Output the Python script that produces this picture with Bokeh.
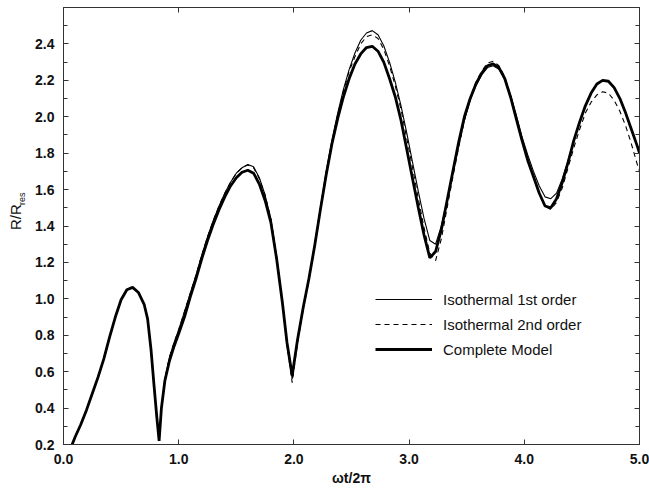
import math
from bokeh.plotting import figure
from bokeh.layouts import row
from bokeh.models import (Range1d, LinearAxis, FixedTicker, PrintfTickFormatter,
                          CustomJSTickFormatter, Legend, LegendItem)
from bokeh.core.properties import value
from bokeh.embed import file_html
from bokeh.resources import INLINE

# ---------------- data ----------------
x = [0.075, 0.10, 0.15, 0.20, 0.25, 0.30, 0.35, 0.40, 0.45, 0.50,
     0.55, 0.60, 0.65, 0.70, 0.73, 0.76, 0.785, 0.81, 0.83, 0.85, 0.88,
     0.92, 0.96, 1.00, 1.05, 1.10, 1.15, 1.20, 1.25, 1.30, 1.35,
     1.40, 1.45, 1.50, 1.55, 1.60, 1.65, 1.70, 1.75, 1.80, 1.85,
     1.90, 1.94, 1.985, 2.03, 2.08, 2.13, 2.18, 2.23, 2.28, 2.33,
     2.38, 2.43, 2.48, 2.53, 2.58, 2.63, 2.68, 2.73, 2.78, 2.83,
     2.88, 2.93, 2.98, 3.03, 3.08, 3.13, 3.18, 3.23, 3.28, 3.33,
     3.38, 3.43, 3.48, 3.53, 3.58, 3.63, 3.68, 3.73, 3.78, 3.83,
     3.88, 3.93, 3.98, 4.03, 4.08, 4.13, 4.18, 4.23, 4.28, 4.33,
     4.38, 4.43, 4.48, 4.53, 4.58, 4.63, 4.68, 4.73, 4.78, 4.83,
     4.88, 4.93, 4.98, 5.00]

complete = [0.20, 0.24, 0.31, 0.39, 0.48, 0.57, 0.67, 0.79, 0.90, 0.995,
            1.05, 1.063, 1.035, 0.97, 0.89, 0.72, 0.53, 0.35, 0.22, 0.40, 0.55,
            0.66, 0.74, 0.81, 0.90, 1.01, 1.11, 1.22, 1.32, 1.41, 1.49,
            1.56, 1.62, 1.665, 1.695, 1.706, 1.69, 1.63, 1.54, 1.42, 1.22,
            0.98, 0.76, 0.578, 0.77, 0.95, 1.11, 1.29, 1.49, 1.68, 1.85,
            1.99, 2.11, 2.21, 2.29, 2.345, 2.38, 2.387, 2.36, 2.30, 2.21,
            2.11, 1.98, 1.82, 1.66, 1.50, 1.35, 1.225, 1.26, 1.38, 1.54,
            1.70, 1.86, 2.00, 2.10, 2.18, 2.24, 2.28, 2.29, 2.27, 2.21,
            2.11, 1.99, 1.87, 1.76, 1.67, 1.58, 1.51, 1.50, 1.55, 1.64,
            1.75, 1.87, 1.97, 2.06, 2.13, 2.18, 2.20, 2.195, 2.16, 2.10,
            2.02, 1.93, 1.84, 1.80]

iso1 = [0.20, 0.24, 0.31, 0.39, 0.48, 0.57, 0.67, 0.79, 0.90, 0.995,
        1.05, 1.063, 1.035, 0.97, 0.89, 0.72, 0.53, 0.35, 0.22, 0.40, 0.56,
        0.68, 0.76, 0.83, 0.93, 1.03, 1.13, 1.24, 1.34, 1.43, 1.51,
        1.58, 1.64, 1.69, 1.72, 1.738, 1.725, 1.665, 1.57, 1.44, 1.23,
        0.98, 0.75, 0.56, 0.76, 0.95, 1.11, 1.30, 1.50, 1.70, 1.87,
        2.02, 2.15, 2.26, 2.35, 2.42, 2.46, 2.473, 2.45, 2.39, 2.30,
        2.19, 2.06, 1.91, 1.75, 1.59, 1.44, 1.32, 1.30, 1.40, 1.54,
        1.69, 1.84, 1.98, 2.09, 2.17, 2.23, 2.27, 2.28, 2.26, 2.21,
        2.12, 2.01, 1.89, 1.79, 1.70, 1.62, 1.56, 1.55, 1.58, 1.66,
        1.76, 1.87, 1.97, 2.06, 2.13, 2.18, 2.20, 2.195, 2.16, 2.10,
        2.02, 1.93, 1.84, 1.80]

iso2 = [0.20, 0.24, 0.31, 0.39, 0.48, 0.57, 0.67, 0.79, 0.90, 0.995,
        1.05, 1.063, 1.035, 0.97, 0.89, 0.72, 0.53, 0.35, 0.22, 0.40, 0.56,
        0.68, 0.76, 0.83, 0.93, 1.03, 1.13, 1.24, 1.34, 1.43, 1.51,
        1.58, 1.64, 1.69, 1.72, 1.735, 1.72, 1.66, 1.57, 1.44, 1.23,
        0.98, 0.75, 0.54, 0.75, 0.94, 1.10, 1.29, 1.49, 1.69, 1.86,
        2.01, 2.14, 2.25, 2.33, 2.40, 2.44, 2.45, 2.43, 2.37, 2.28,
        2.17, 2.04, 1.88, 1.72, 1.55, 1.39, 1.25, 1.21, 1.33, 1.50,
        1.67, 1.83, 1.98, 2.10, 2.19, 2.25, 2.295, 2.305, 2.28, 2.22,
        2.12, 2.00, 1.88, 1.77, 1.67, 1.58, 1.51, 1.49, 1.53, 1.61,
        1.72, 1.83, 1.93, 2.02, 2.08, 2.12, 2.137, 2.13, 2.09, 2.03,
        1.95, 1.85, 1.74, 1.70]

x_ticks = [0, 1, 2, 3, 4, 5]
y_ticks = [0.2, 0.4, 0.6, 0.8, 1.0, 1.2, 1.4, 1.6, 1.8, 2.0, 2.2, 2.4]
y_minor = [0.3, 0.5, 0.7, 0.9, 1.1, 1.3, 1.5, 1.7, 1.9, 2.1, 2.3, 2.5]

labels = ["Isothermal 1st order", "Isothermal 2nd order", "Complete Model"]
y_title = "R/R"
y_title_sub = "res"
x_title = "ωt/2π"

FONT = "Liberation Sans"
INK = "#111111"
AX = "#333333"

TITLE_W = 30
H = 491

# ---------------- main plot ----------------
p = figure(width=649 - TITLE_W, height=H, output_backend="svg", toolbar_location=None,
           x_range=Range1d(0, 5), y_range=Range1d(0.2, 2.6),
           min_border_left=63 - TITLE_W, min_border_right=10, min_border_top=7,
           min_border_bottom=47)
p.grid.visible = False
p.outline_line_color = AX
p.background_fill_color = "white"
p.border_fill_color = "white"

def style_axis(ax):
    ax.axis_line_color = AX
    ax.major_tick_line_color = AX
    ax.minor_tick_line_color = AX
    ax.major_tick_in = 5
    ax.major_tick_out = 0
    ax.minor_tick_in = 4
    ax.minor_tick_out = 0
    ax.major_label_text_font = FONT
    ax.major_label_text_font_size = "14px"
    ax.major_label_text_font_style = "bold"
    ax.major_label_text_color = INK

xa = p.xaxis[0]
xa.ticker = FixedTicker(ticks=x_ticks, minor_ticks=[])
xa.formatter = PrintfTickFormatter(format="%.1f")
style_axis(xa)
xa.major_label_standoff = 9
xa.axis_label = x_title
xa.axis_label_text_font = FONT
xa.axis_label_text_font_size = "14px"
xa.axis_label_text_font_style = "bold"
xa.axis_label_text_color = INK
xa.axis_label_standoff = 3

ya = p.yaxis[0]
ya.ticker = FixedTicker(ticks=y_ticks, minor_ticks=y_minor)
ya.formatter = PrintfTickFormatter(format="%.1f")
style_axis(ya)
ya.major_label_standoff = 9

blank = CustomJSTickFormatter(code="return ''")
top = LinearAxis(ticker=FixedTicker(ticks=x_ticks, minor_ticks=[]), formatter=blank)
style_axis(top)
top.major_label_standoff = 0
p.add_layout(top, "above")
right = LinearAxis(ticker=FixedTicker(ticks=y_ticks, minor_ticks=y_minor), formatter=blank)
style_axis(right)
right.major_label_standoff = 0
p.add_layout(right, "right")

r1 = p.line(x, iso1, line_color="black", line_width=1.1)
r2 = p.line(x, iso2, line_color="black", line_width=1.1, line_dash="5 4")
r3 = p.line(x, complete, line_color="black", line_width=2.8)

legend = Legend(items=[LegendItem(label=labels[0], renderers=[r1]),
                       LegendItem(label=labels[1], renderers=[r2]),
                       LegendItem(label=labels[2], renderers=[r3])],
                location=(312, 85), orientation="vertical")
legend.border_line_color = None
legend.background_fill_alpha = 0
legend.glyph_width = 57
legend.glyph_height = 20
legend.label_height = 20
legend.label_standoff = 11
legend.spacing = 5
legend.padding = 0
legend.margin = 0
legend.label_text_font = FONT
legend.label_text_font_size = "15px"
legend.label_text_color = INK
p.add_layout(legend, "center")

# ---------------- narrow strip holding the y-axis title ----------------
q = figure(width=TITLE_W, height=H, output_backend="svg", toolbar_location=None,
           x_range=Range1d(0, TITLE_W), y_range=Range1d(0, H),
           x_axis_type=None, y_axis_type=None,
           min_border_left=0, min_border_right=0, min_border_top=0, min_border_bottom=0)
q.grid.visible = False
q.outline_line_color = None
q.background_fill_color = "white"
q.border_fill_color = "white"
q.text(x=[15], y=[H - 250], text=[y_title], angle=math.pi / 2,
       text_font=value(FONT), text_font_size="15px", text_color=INK,
       text_align="left", text_baseline="middle")
q.text(x=[21], y=[H - 222], text=[y_title_sub], angle=math.pi / 2,
       text_font=value(FONT), text_font_size="9px", text_color=INK,
       text_align="left", text_baseline="middle")

layout = row(q, p, spacing=0)
open("out.html", "w").write(file_html(layout, INLINE))
